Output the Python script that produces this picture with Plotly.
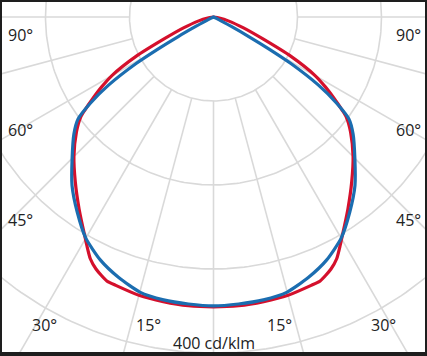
import numpy as np
import plotly.graph_objects as go

# ---- data (cd/klm) ----
blue_angles = [0, 5, 10, 15, 20, 25, 30, 35, 40, 45, 50, 53, 55, 57, 59, 60, 61, 62, 64, 66, 70, 80, 90]
blue_values = [344, 343, 342, 339, 330, 319, 304, 283, 262, 238, 217, 202, 179, 149, 107, 77, 48, 24, 7, 0, 0, 0, 0]

red_angles = [0, 5, 10, 15, 20, 22, 25, 27, 29, 30, 32, 35, 40, 45, 50, 53, 54, 56, 58, 60, 63, 66, 70, 75, 80, 85, 90]
red_values = [345, 345, 344, 343, 340, 339, 331, 323, 311, 305, 294, 279, 256, 235, 213, 198, 190, 173, 157, 140, 104, 65, 38, 19, 7, 0, 0]

grid_radii = [100, 200, 300, 400]
spoke_angles = [-90, -75, -60, -45, -30, -15, 0, 15, 30, 45, 60, 75, 90]
angle_labels_left = ["90°", "60°", "45°", "30°", "15°"]
angle_labels_right = ["90°", "60°", "45°", "30°", "15°"]
scale_label = "400 cd/klm"

# ---- geometry / layout ----
W, H = 427, 356
ML, MR, MT, MB = 2, 2, 2, 4
PX_PER_UNIT = 0.84
CX, CY = 213.5, 17.0  # pixel position of the polar centre

x0 = (ML - CX) / PX_PER_UNIT
x1 = (W - MR - CX) / PX_PER_UNIT
y1 = (CY - MT) / PX_PER_UNIT
y0 = -(H - MB - CY) / PX_PER_UNIT


def pxx(px):
    return (px - CX) / PX_PER_UNIT


def pxy(py):
    return -(py - CY) / PX_PER_UNIT


def polar_to_xy(angles, values):
    a = np.radians(np.asarray(angles, float))
    r = np.asarray(values, float)
    return r * np.sin(a), -r * np.cos(a)


def mirrored(angles, values):
    angs = [-a for a in angles[::-1]] + list(angles[1:])
    vals = list(values[::-1]) + list(values[1:])
    return polar_to_xy(angs, vals)


fig = go.Figure()
GRID = "#d9d9d9"

# grid circles
t = np.linspace(0, 2 * np.pi, 361)
for r in grid_radii:
    fig.add_trace(go.Scatter(x=r * np.cos(t), y=r * np.sin(t), mode="lines",
                             line=dict(color=GRID, width=1.6), hoverinfo="skip", showlegend=False))

# spokes from the first circle outwards
for a in spoke_angles:
    xs, ys = polar_to_xy([a, a], [grid_radii[0], 700])
    fig.add_trace(go.Scatter(x=xs, y=ys, mode="lines",
                             line=dict(color=GRID, width=1.6), hoverinfo="skip", showlegend=False))

# curves
xr, yr = mirrored(red_angles, red_values)
fig.add_trace(go.Scatter(x=xr, y=yr, mode="lines", line=dict(color="#d4102c", width=3.2, shape="spline", smoothing=0.6),
                         hoverinfo="skip", showlegend=False))
xb, yb = mirrored(blue_angles, blue_values)
fig.add_trace(go.Scatter(x=xb, y=yb, mode="lines", line=dict(color="#1b6db0", width=3.2, shape="spline", smoothing=0.6),
                         hoverinfo="skip", showlegend=False))

FONT = dict(family="Open Sans, Noto Sans, sans-serif", size=16, color="#222222")
left_pos = [(6, 35), (6, 130), (6, 220)]
right_pos = [(423, 35), (423, 130), (423, 220)]
ann = []
for lab, (px, py) in zip(angle_labels_left[:3], left_pos):
    ann.append(dict(x=pxx(px), y=pxy(py), text=lab, xanchor="left", yanchor="middle"))
for lab, (px, py) in zip(angle_labels_right[:3], right_pos):
    ann.append(dict(x=pxx(px), y=pxy(py), text=lab, xanchor="right", yanchor="middle"))
bottom_pos = [(44, 325), (148, 325)]
for lab, (px, py) in zip(angle_labels_left[3:], bottom_pos):
    ann.append(dict(x=pxx(px), y=pxy(py), text=lab, xanchor="center", yanchor="middle"))
bottom_pos_r = [(383, 325), (279, 325)]
for lab, (px, py) in zip(angle_labels_right[3:], bottom_pos_r):
    ann.append(dict(x=pxx(px), y=pxy(py), text=lab, xanchor="center", yanchor="middle"))
ann.append(dict(x=pxx(213.5), y=pxy(343), text=scale_label, xanchor="center", yanchor="middle"))
for a in ann:
    a.update(showarrow=False, font=FONT, xref="x", yref="y")

fig.update_layout(
    width=W, height=H,
    margin=dict(l=ML, r=MR, t=MT, b=MB, pad=0),
    paper_bgcolor="#1e1e1e", plot_bgcolor="#ffffff",
    xaxis=dict(range=[x0, x1], visible=False, fixedrange=True),
    yaxis=dict(range=[y0, y1], visible=False, fixedrange=True),
    annotations=ann,
    showlegend=False,
)
fig.write_html("out.html", config=dict(displayModeBar=False),
               post_script="document.body.style.margin='0';document.body.style.overflow='hidden';")
